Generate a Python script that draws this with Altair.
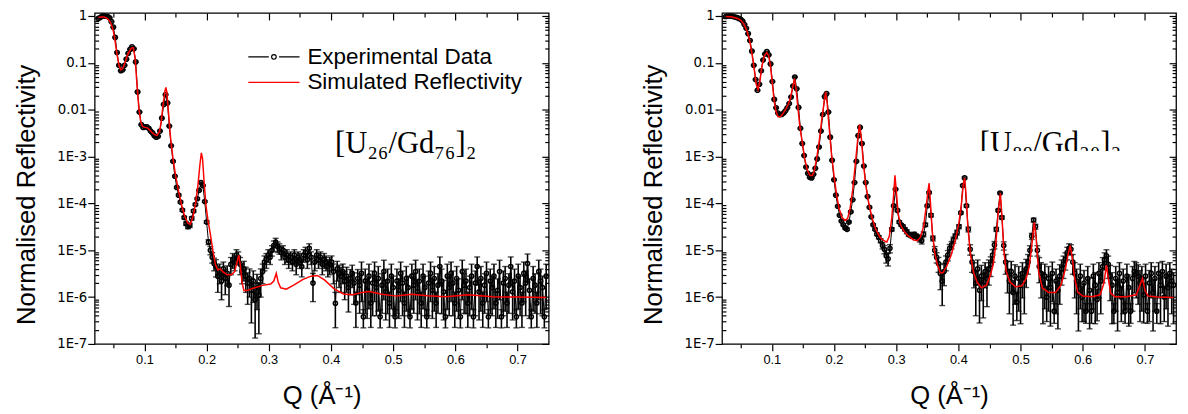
import altair as alt
import pandas as pd

# ---------------- data ----------------
Q_EXP = [
    0.026, 0.029, 0.032, 0.035, 0.038, 0.041, 0.044, 0.047, 0.050, 0.053,
    0.056, 0.059, 0.062, 0.065, 0.068, 0.071, 0.074, 0.077, 0.080, 0.083,
    0.086, 0.089, 0.092, 0.095, 0.098, 0.101, 0.104, 0.107, 0.110, 0.113,
    0.116, 0.119, 0.122, 0.125, 0.128, 0.131, 0.134, 0.137, 0.140, 0.143,
    0.146, 0.149, 0.152, 0.155, 0.158, 0.161, 0.164, 0.167, 0.170, 0.173,
    0.176, 0.179, 0.182, 0.185, 0.188, 0.191, 0.194, 0.197, 0.200, 0.203,
    0.206, 0.209, 0.212, 0.215, 0.218, 0.221, 0.224, 0.227, 0.230, 0.233,
    0.236, 0.239, 0.242, 0.245, 0.248, 0.251, 0.254, 0.257, 0.260, 0.263,
    0.266, 0.269, 0.272, 0.275, 0.278, 0.281, 0.284, 0.287, 0.290, 0.293,
    0.296, 0.299, 0.302, 0.305, 0.308, 0.311, 0.314, 0.317, 0.320, 0.323,
    0.326, 0.329, 0.332, 0.335, 0.338, 0.341, 0.344, 0.347, 0.350, 0.353,
    0.356, 0.359, 0.362, 0.365, 0.368, 0.371, 0.374, 0.377, 0.380, 0.383,
    0.386, 0.389, 0.392, 0.395, 0.398, 0.401, 0.404, 0.407, 0.410, 0.413,
    0.416, 0.419, 0.422, 0.425, 0.428, 0.431, 0.434, 0.437, 0.440, 0.443,
    0.446, 0.449, 0.452, 0.455, 0.458, 0.461, 0.464, 0.467, 0.470, 0.473,
    0.476, 0.479, 0.482, 0.485, 0.488, 0.491, 0.494, 0.497, 0.500, 0.503,
    0.506, 0.509, 0.512, 0.515, 0.518, 0.521, 0.524, 0.527, 0.530, 0.533,
    0.536, 0.539, 0.542, 0.545, 0.548, 0.551, 0.554, 0.557, 0.560, 0.563,
    0.566, 0.569, 0.572, 0.575, 0.578, 0.581, 0.584, 0.587, 0.590, 0.593,
    0.596, 0.599, 0.602, 0.605, 0.608, 0.611, 0.614, 0.617, 0.620, 0.623,
    0.626, 0.629, 0.632, 0.635, 0.638, 0.641, 0.644, 0.647, 0.650, 0.653,
    0.656, 0.659, 0.662, 0.665, 0.668, 0.671, 0.674, 0.677, 0.680, 0.683,
    0.686, 0.689, 0.692, 0.695, 0.698, 0.701, 0.704, 0.707, 0.710, 0.713,
    0.716, 0.719, 0.722, 0.725, 0.728, 0.731, 0.734, 0.737, 0.740, 0.743,
    0.746,
]

# left panel [U26/Gd76]2 : experimental reflectivity and relative error (%)
L_EXP_R = [
    0.89, 0.93, 1.0, 1.0, 0.99, 0.98, 0.92, 0.76, 0.58, 0.35,
    0.166, 0.089, 0.068, 0.071, 0.089, 0.12, 0.16, 0.195, 0.22, 0.20,
    0.105, 0.024, 8.9e-3, 4.8e-3, 4.2e-3, 4.3e-3, 4.3e-3, 4.0e-3, 3.5e-3, 3.2e-3,
    2.8e-3, 2.6e-3, 2.7e-3, 3.5e-3, 6.6e-3, 0.013, 0.021, 0.014, 4.5e-3, 1.7e-3,
    7.9e-4, 3.8e-4, 2.2e-4, 1.5e-4, 1.07e-4, 7.2e-5, 5.0e-5, 3.7e-5, 3.2e-5, 3.4e-5,
    4.8e-5, 6.9e-5, 9.5e-5, 1.26e-4, 1.9e-4, 2.8e-4, 2.4e-4, 1.1e-4, 4.0e-5, 1.5e-5,
    1.0e-5, 7.1e-6, 5.2e-6, 4.5e-6, 2.8e-6, 3.5e-6, 2.2e-6, 4.0e-6, 2.5e-6, 3.2e-6,
    1.8e-6, 5.0e-6, 6.3e-6, 5.6e-6, 7.9e-6, 7.1e-6, 5.0e-6, 3.5e-6, 4.0e-6, 2.8e-6,
    2.0e-6, 2.5e-6, 1.4e-6, 2.2e-6, 8.9e-7, 1.8e-6, 1.1e-6, 2.5e-6, 3.5e-6, 5.6e-6,
    6.3e-6, 7.9e-6, 7.1e-6, 1.0e-5, 1.26e-5, 1.5e-5, 1.2e-5, 1.1e-5, 8.9e-6, 1.0e-5,
    7.1e-6, 7.9e-6, 6.3e-6, 7.1e-6, 5.6e-6, 7.9e-6, 5.0e-6, 7.1e-6, 6.3e-6, 4.5e-6,
    7.9e-6, 8.9e-6, 6.3e-6, 1.1e-5, 7.1e-6, 2.0e-6, 5.6e-6, 7.9e-6, 6.3e-6, 7.1e-6,
    5.0e-6, 6.3e-6, 5.6e-6, 4.5e-6, 5.0e-6, 5.6e-6, 3.5e-6, 7.4e-7, 4.0e-6, 3.2e-6,
    2.8e-6, 3.5e-6, 2.2e-6, 2.8e-6, 1.6e-6, 2.5e-6, 3.2e-6, 2.0e-6, 7.5e-7, 2.5e-6,
    1.8e-6, 3.2e-6, 3.8e-7, 2.2e-6, 1.4e-6, 2.8e-6, 7.5e-7, 2.0e-6, 3.2e-6, 1.6e-6,
    2.5e-6, 3.8e-7, 1.8e-6, 3.5e-6, 1.3e-6, 2.2e-6, 7.5e-7, 2.8e-6, 1.6e-6, 3.8e-7,
    2.2e-6, 1.4e-6, 3.2e-6, 2.0e-6, 7.5e-7, 2.5e-6, 1.6e-6, 3.8e-7, 2.8e-6, 1.8e-6,
    3.5e-6, 1.3e-6, 2.2e-6, 7.5e-7, 2.8e-6, 1.6e-6, 3.8e-7, 2.0e-6, 3.2e-6, 1.4e-6,
    2.5e-6, 7.5e-7, 1.8e-6, 4.5e-6, 2.2e-6, 1.3e-6, 3.8e-7, 2.8e-6, 1.6e-6, 3.2e-6,
    2.0e-6, 7.5e-7, 2.5e-6, 1.4e-6, 3.8e-7, 3.5e-6, 1.8e-6, 2.2e-6, 7.5e-7, 1.6e-6,
    2.8e-6, 3.8e-7, 2.0e-6, 4.5e-6, 1.3e-6, 2.5e-6, 7.5e-7, 1.8e-6, 3.2e-6, 3.8e-7,
    2.2e-6, 1.6e-6, 2.8e-6, 7.5e-7, 1.4e-6, 3.5e-6, 3.8e-7, 2.0e-6, 2.5e-6, 7.5e-7,
    1.8e-6, 4.5e-6, 1.3e-6, 2.2e-6, 3.8e-7, 2.8e-6, 1.6e-6, 7.5e-7, 3.2e-6, 2.0e-6,
    5.2e-6, 1.4e-6, 3.8e-7, 2.5e-6, 1.8e-6, 7.5e-7, 3.5e-6, 2.2e-6, 1.6e-6, 3.8e-7,
    2.8e-6,
]
L_EXP_ERR = [
    2, 2, 2, 2, 2, 2, 2, 2, 2, 2,
    2, 2, 2, 2, 2, 2, 2, 2, 2, 2,
    2, 2, 2, 2, 2, 2, 2, 2, 2, 2,
    2, 2, 2, 2, 2, 2, 2, 2, 2, 2,
    3, 3, 3, 4, 4, 5, 6, 8, 10, 10,
    8, 6, 5, 4, 3, 3, 3, 4, 6, 12,
    20, 25, 30, 40, 55, 45, 60, 40, 55, 45,
    65, 40, 35, 35, 30, 30, 40, 45, 45, 55,
    65, 60, 80, 65, 85, 70, 85, 60, 45, 35,
    35, 30, 30, 25, 25, 20, 25, 25, 30, 25,
    30, 30, 35, 30, 35, 30, 40, 30, 35, 40,
    30, 30, 35, 25, 30, 60, 35, 30, 35, 30,
    40, 35, 35, 40, 40, 35, 45, 70, 45, 50,
    55, 45, 60, 55, 70, 55, 50, 65, 70, 55,
    75, 75, 42, 80, 75, 80, 70, 80, 75, 75,
    80, 42, 75, 75, 75, 80, 70, 80, 75, 42,
    80, 75, 75, 80, 70, 80, 75, 42, 80, 75,
    75, 75, 80, 70, 80, 75, 42, 80, 75, 75,
    80, 70, 75, 60, 80, 75, 42, 80, 75, 75,
    80, 70, 80, 75, 42, 75, 75, 80, 70, 75,
    80, 42, 80, 60, 75, 80, 70, 75, 75, 42,
    80, 75, 80, 70, 75, 75, 42, 80, 80, 70,
    75, 60, 75, 80, 42, 80, 75, 70, 75, 80,
    60, 75, 42, 80, 75, 70, 75, 80, 75, 42,
    80,
]
L_SIM_Q = [
    0.026, 0.030, 0.035, 0.040, 0.044, 0.047, 0.050, 0.053, 0.056, 0.059,
    0.062, 0.065, 0.068, 0.072, 0.076, 0.080, 0.082, 0.085, 0.088, 0.091,
    0.094, 0.097, 0.101, 0.105, 0.110, 0.115, 0.120, 0.124, 0.127, 0.130,
    0.133, 0.1345, 0.136, 0.139, 0.142, 0.146, 0.150, 0.155, 0.160, 0.165,
    0.170, 0.174, 0.178, 0.182, 0.186, 0.189, 0.1915, 0.1935, 0.196, 0.199,
    0.202, 0.206, 0.210, 0.214, 0.218, 0.222, 0.227, 0.233, 0.240, 0.245,
    0.249, 0.2515, 0.254, 0.257, 0.260, 0.265, 0.275, 0.290, 0.303, 0.308,
    0.312, 0.315, 0.319, 0.328, 0.340, 0.355, 0.368, 0.378, 0.390, 0.405,
    0.420, 0.435, 0.450, 0.462, 0.480, 0.505, 0.530, 0.555, 0.585, 0.620,
    0.660, 0.700, 0.746,
]
L_SIM_R = [
    0.93, 0.95, 0.95, 0.89, 0.79, 0.66, 0.48, 0.28, 0.15, 0.089,
    0.071, 0.076, 0.095, 0.138, 0.18, 0.21, 0.21, 0.126, 0.035, 0.011,
    5.6e-3, 4.4e-3, 4.2e-3, 4.1e-3, 3.5e-3, 3.0e-3, 2.8e-3, 3.3e-3, 5.6e-3, 0.0126,
    0.025, 0.030, 0.024, 7.9e-3, 2.5e-3, 8.9e-4, 4.0e-4, 1.8e-4, 8.9e-5, 5.2e-5,
    3.8e-5, 3.6e-5, 5.2e-5, 9.5e-5, 2.4e-4, 6.3e-4, 1.2e-3, 8.9e-4, 2.8e-4, 8.9e-5,
    4.5e-5, 2.2e-5, 1.0e-5, 5.0e-6, 3.8e-6, 4.0e-6, 3.4e-6, 3.0e-6, 3.0e-6, 3.5e-6,
    5.6e-6, 7.9e-6, 5.0e-6, 2.0e-6, 1.38e-6, 1.38e-6, 1.55e-6, 1.78e-6, 1.9e-6, 2.2e-6,
    3.2e-6, 2.1e-6, 1.58e-6, 1.48e-6, 1.8e-6, 2.4e-6, 2.8e-6, 2.9e-6, 2.3e-6, 1.5e-6,
    1.17e-6, 1.12e-6, 1.26e-6, 1.32e-6, 1.17e-6, 1.05e-6, 1.15e-6, 1.07e-6, 1.02e-6, 1.12e-6,
    1.02e-6, 1.0e-6, 0.98e-6,
]

# right panel [U89/Gd20]2
R_EXP_R = [
    0.98, 1.0, 1.0, 1.0, 0.98, 0.95, 0.93, 0.89, 0.85, 0.78,
    0.66, 0.55, 0.42, 0.30, 0.178, 0.089, 0.044, 0.026, 0.035, 0.068,
    0.115, 0.155, 0.174, 0.148, 0.095, 0.040, 0.0166, 0.011, 8.5e-3, 7.9e-3,
    7.9e-3, 8.5e-3, 9.5e-3, 0.011, 0.0135, 0.0186, 0.032, 0.050, 0.028, 0.0112,
    4.0e-3, 1.9e-3, 1.05e-3, 6.0e-4, 4.4e-4, 3.6e-4, 3.5e-4, 4.2e-4, 5.6e-4, 8.9e-4,
    1.6e-3, 3.5e-3, 7.9e-3, 0.019, 0.022, 8.9e-3, 2.6e-3, 8.3e-4, 3.2e-4, 1.5e-4,
    8.7e-5, 5.6e-5, 4.2e-5, 3.5e-5, 3.0e-5, 2.8e-5, 4.0e-5, 6.6e-5, 1.2e-4, 2.8e-4,
    7.9e-4, 2.8e-3, 4.2e-3, 1.9e-3, 6.3e-4, 2.8e-4, 1.4e-4, 8.3e-5, 5.2e-5, 3.5e-5,
    2.8e-5, 2.2e-5, 1.9e-5, 1.6e-5, 1.26e-5, 1.05e-5, 7.6e-6, 6.6e-6, 1.1e-5, 2.8e-5,
    8.9e-5, 2.0e-4, 7.1e-5, 4.0e-5, 3.5e-5, 3.2e-5, 2.8e-5, 2.5e-5, 2.2e-5, 2.1e-5,
    2.0e-5, 2.2e-5, 2.0e-5, 1.9e-5, 1.74e-5, 1.6e-5, 2.2e-5, 3.5e-5, 8.9e-5, 1.7e-4,
    5.6e-5, 1.8e-5, 1.0e-5, 7.1e-6, 5.2e-6, 3.2e-6, 2.2e-6, 3.5e-6, 5.6e-6, 7.9e-6,
    1.1e-5, 1.3e-5, 1.66e-5, 2.0e-5, 2.4e-5, 3.2e-5, 6.3e-5, 2.4e-4, 3.5e-4, 8.9e-5,
    2.8e-5, 1.05e-5, 5.6e-6, 3.5e-6, 2.0e-6, 4.0e-6, 1.4e-6, 2.8e-6, 1.8e-6, 3.5e-6,
    2.5e-6, 4.0e-6, 5.0e-6, 7.9e-6, 1.3e-5, 2.8e-5, 7.1e-5, 1.66e-4, 5.0e-5, 1.26e-5,
    5.6e-6, 3.5e-6, 2.2e-6, 3.5e-6, 1.26e-6, 2.8e-6, 7.9e-7, 2.5e-6, 1.8e-6, 3.2e-6,
    2.2e-6, 4.0e-6, 5.6e-6, 1.0e-5, 2.0e-5, 4.4e-5, 3.2e-5, 1.0e-5, 4.5e-6, 3.2e-6,
    1.8e-6, 2.8e-6, 1.0e-6, 2.5e-6, 1.6e-6, 3.2e-6, 5.0e-7, 2.2e-6, 1.4e-6, 2.8e-6,
    4.0e-6, 5.0e-6, 6.3e-6, 8.9e-6, 1.1e-5, 1.05e-5, 5.6e-6, 3.2e-6, 2.2e-6, 1.26e-6,
    2.8e-6, 1.0e-6, 2.0e-6, 5.0e-7, 2.5e-6, 1.4e-6, 5.0e-7, 2.8e-6, 1.8e-6, 8.9e-7,
    3.2e-6, 2.2e-6, 4.5e-6, 6.3e-6, 7.6e-6, 5.0e-6, 2.8e-6, 1.8e-6, 5.0e-7, 2.5e-6,
    1.26e-6, 3.2e-6, 1.0e-6, 2.2e-6, 5.0e-7, 2.8e-6, 1.6e-6, 5.0e-7, 2.5e-6, 3.5e-6,
    3.2e-6, 2.8e-6, 2.0e-6, 2.5e-6, 1.12e-6, 2.8e-6, 5.0e-7, 2.0e-6, 3.2e-6, 1.26e-6,
    2.5e-6, 5.0e-7, 3.2e-6, 1.8e-6, 3.5e-6, 1.0e-6, 2.8e-6, 1.6e-6, 3.2e-6, 2.2e-6,
    1.8e-6,
]
R_EXP_ERR = [
    2, 2, 2, 2, 2, 2, 2, 2, 2, 2,
    2, 2, 2, 2, 2, 2, 2, 2, 2, 2,
    2, 2, 2, 2, 2, 2, 2, 2, 2, 2,
    2, 2, 2, 2, 2, 2, 2, 2, 2, 2,
    2, 2, 2, 2, 2, 2, 2, 2, 2, 2,
    2, 2, 2, 2, 2, 2, 2, 2, 2, 2,
    3, 3, 4, 4, 5, 5, 4, 3, 2, 2,
    2, 2, 2, 2, 2, 2, 2, 3, 3, 4,
    5, 6, 8, 10, 15, 20, 30, 30, 20, 8,
    4, 3, 4, 6, 6, 8, 8, 10, 10, 10,
    10, 10, 12, 12, 14, 15, 12, 8, 5, 4,
    8, 12, 20, 25, 35, 55, 70, 50, 35, 25,
    20, 18, 15, 12, 12, 10, 6, 4, 4, 6,
    12, 25, 40, 55, 80, 55, 80, 70, 80, 55,
    75, 55, 45, 30, 18, 10, 5, 4, 8, 20,
    45, 65, 80, 65, 80, 75, 60, 80, 85, 70,
    80, 60, 45, 25, 15, 10, 12, 25, 55, 70,
    85, 80, 70, 80, 85, 75, 45, 80, 85, 75,
    55, 50, 40, 30, 25, 25, 45, 70, 80, 85,
    80, 70, 85, 45, 80, 85, 45, 80, 85, 65,
    70, 80, 55, 40, 35, 50, 70, 85, 45, 80,
    85, 70, 70, 80, 45, 80, 85, 45, 80, 65,
    70, 75, 85, 80, 75, 80, 45, 85, 70, 85,
    80, 45, 70, 85, 65, 70, 80, 85, 70, 80,
    85,
]
R_SIM_Q = [
    0.026, 0.035, 0.045, 0.050, 0.055, 0.060, 0.064, 0.068, 0.072, 0.075,
    0.078, 0.081, 0.084, 0.088, 0.092, 0.095, 0.098, 0.101, 0.104, 0.107,
    0.110, 0.114, 0.118, 0.122, 0.126, 0.130, 0.133, 0.1365, 0.139, 0.142,
    0.145, 0.149, 0.153, 0.157, 0.161, 0.165, 0.168, 0.172, 0.176, 0.180,
    0.184, 0.1865, 0.189, 0.192, 0.196, 0.200, 0.204, 0.208, 0.213, 0.218,
    0.222, 0.226, 0.230, 0.234, 0.238, 0.241, 0.244, 0.247, 0.251, 0.256,
    0.261, 0.267, 0.274, 0.280, 0.285, 0.289, 0.293, 0.296, 0.298, 0.300,
    0.303, 0.307, 0.313, 0.320, 0.328, 0.334, 0.339, 0.344, 0.348, 0.351,
    0.353, 0.355, 0.358, 0.362, 0.366, 0.371, 0.375, 0.381, 0.388, 0.395,
    0.401, 0.405, 0.408, 0.410, 0.412, 0.415, 0.419, 0.424, 0.430, 0.437,
    0.445, 0.451, 0.456, 0.460, 0.464, 0.4675, 0.470, 0.473, 0.477, 0.483,
    0.492, 0.502, 0.509, 0.514, 0.518, 0.522, 0.525, 0.529, 0.535, 0.545,
    0.556, 0.565, 0.572, 0.577, 0.580, 0.583, 0.587, 0.592, 0.600, 0.615,
    0.628, 0.634, 0.638, 0.641, 0.645, 0.652, 0.670, 0.686, 0.692, 0.696,
    0.700, 0.705, 0.720, 0.746,
]
R_SIM_R = [
    0.98, 0.97, 0.89, 0.81, 0.68, 0.48, 0.32, 0.16, 0.071, 0.035,
    0.027, 0.042, 0.083, 0.141, 0.166, 0.141, 0.083, 0.035, 0.015, 8.9e-3,
    7.1e-3, 7.1e-3, 8.3e-3, 0.010, 0.0126, 0.0178, 0.028, 0.046, 0.028, 0.0112,
    4.5e-3, 2.0e-3, 8.9e-4, 5.2e-4, 4.0e-4, 3.9e-4, 4.8e-4, 8.9e-4, 2.0e-3, 5.6e-3,
    0.014, 0.024, 0.014, 4.5e-3, 1.12e-3, 4.0e-4, 1.58e-4, 7.9e-5, 5.0e-5, 4.3e-5,
    4.8e-5, 7.9e-5, 1.9e-4, 6.3e-4, 2.2e-3, 4.8e-3, 2.5e-3, 7.9e-4, 2.5e-4, 1.0e-4,
    5.0e-5, 2.8e-5, 1.9e-5, 1.6e-5, 1.5e-5, 2.0e-5, 5.0e-5, 1.58e-4, 4.0e-4, 2.0e-4,
    6.3e-5, 3.5e-5, 2.5e-5, 2.0e-5, 1.66e-5, 1.6e-5, 1.9e-5, 3.2e-5, 7.9e-5, 1.8e-4,
    2.7e-4, 1.1e-4, 2.5e-5, 8.9e-6, 5.0e-6, 3.3e-6, 3.3e-6, 4.5e-6, 7.6e-6, 1.6e-5,
    4.0e-5, 1.0e-4, 2.6e-4, 3.5e-4, 1.8e-4, 3.5e-5, 8.9e-6, 3.5e-6, 2.1e-6, 1.58e-6,
    1.8e-6, 2.8e-6, 5.0e-6, 1.26e-5, 6.3e-5, 1.66e-4, 5.6e-5, 1.0e-5, 3.5e-6, 2.1e-6,
    1.66e-6, 1.74e-6, 2.5e-6, 4.5e-6, 1.26e-5, 4.0e-5, 1.8e-5, 3.5e-6, 1.58e-6, 1.26e-6,
    1.26e-6, 1.8e-6, 4.0e-6, 8.9e-6, 1.26e-5, 7.1e-6, 2.5e-6, 1.26e-6, 1.05e-6, 1.02e-6,
    1.12e-6, 2.0e-6, 4.8e-6, 2.5e-6, 1.2e-6, 1.02e-6, 1.02e-6, 1.12e-6, 1.8e-6, 2.5e-6,
    1.4e-6, 1.05e-6, 1.0e-6, 0.98e-6,
]

SERIES = ["Experimental Data", "Simulated Reflectivity"]
LEFT_LABEL = "[U\u2082\u2086/Gd\u2087\u2086]\u2082"
RIGHT_LABEL = "[U\u2088\u2089/Gd\u2082\u2080]\u2082"
LEFT_LABEL_AT = (0.520, 1.2e-3)
RIGHT_LABEL_AT = (0.548, 1.2e-3)
# the right-hand label is cut off just below its baseline in the original
RIGHT_LABEL_CUT = (0.425, 0.67, 1.32e-3, 7.5e-4)

X_MAJOR = [0.1, 0.2, 0.3, 0.4, 0.5, 0.6, 0.7]
X_MINOR = [0.05, 0.15, 0.25, 0.35, 0.45, 0.55, 0.65]
Y_MAJOR = [1e-7, 1e-6, 1e-5, 1e-4, 1e-3, 1e-2, 1e-1, 1.0]
Y_MINOR = [m * d for d in Y_MAJOR[:-1] for m in range(2, 10)]

# ---------------- styling ----------------
W, H = 461, 336
SANS = "Liberation Sans"
WIDE = "DejaVu Sans"
SERIF = "Liberation Serif"
X_DOMAIN = [0.02, 0.75]
Y_DOMAIN = [1e-7, 1.16]

PATH_EXP = ("M-1,0L-0.2,0M0.2,0L1,0"
            "M0.09,0A0.09,0.09,0,1,1,-0.09,0A0.09,0.09,0,1,1,0.09,0")
PATH_SIM = "M-1,0L1,0"


def ax(orient, values, size, inside=False, **kw):
    d = dict(orient=orient, values=values, tickSize=size, tickColor="black",
             tickWidth=1.2, domain=False, grid=False, labels=False,
             minExtent=0, maxExtent=400, title=None)
    if inside:
        d["offset"] = -size
    d.update(kw)
    return alt.Axis(**d)


AX_BOTTOM = ax("bottom", X_MAJOR, 7, labels=True, format=".1f",
               labelFont=SANS, labelFontSize=13, labelColor="black",
               labelPadding=3, title="Q (\u00c5\u207b\u00b9)", titleFont=SANS,
               titleFontSize=26, titleFontWeight="normal", titleColor="black",
               titleY=60, titleBaseline="alphabetic")
AX_BOTTOM_MINOR = ax("bottom", X_MINOR, 4)
AX_TOP = ax("top", X_MAJOR, 7, inside=True)
AX_TOP_MINOR = ax("top", X_MINOR, 4, inside=True)
AX_LEFT = ax("left", Y_MAJOR, 7, labels=True,
             labelExpr="datum.value >= 0.01 ? '' + datum.value : "
                       "'1E' + round(log(datum.value) / LN10)",
             labelFont=WIDE, labelFontSize=13.5, labelColor="black",
             labelPadding=1, title="Normalised Reflectivity", titleFont=SANS,
             titleFontSize=26, titleFontWeight="normal", titleColor="black",
             titleX=-61, titleY=H / 2 + 16, titleAngle=-90,
             titleAlign="center", titleBaseline="alphabetic")
AX_LEFT_MINOR = ax("left", Y_MINOR, 4, inside=True)
AX_RIGHT = ax("right", Y_MAJOR, 7, inside=True)
AX_RIGHT_MINOR = ax("right", Y_MINOR, 4, inside=True)


def panel(exp_r, exp_err, sim_q, sim_r, label, label_at, with_legend, cut=None):
    lo = [r * (1 - e / 100.0) for r, e in zip(exp_r, exp_err)]
    hi = [r * (1 + e / 100.0) for r, e in zip(exp_r, exp_err)]
    exp = pd.DataFrame({"q": Q_EXP, "r": exp_r, "lo": lo, "hi": hi})
    sim = pd.DataFrame({"q": sim_q, "r": sim_r})
    xs = alt.Scale(domain=X_DOMAIN, nice=False, zero=False)
    ys = alt.Scale(type="log", domain=Y_DOMAIN, nice=False)

    bars = alt.Chart(exp).mark_rule(color="black", strokeWidth=1.6).encode(
        x=alt.X("q:Q", scale=xs, axis=AX_BOTTOM),
        y=alt.Y("lo:Q", scale=ys, axis=AX_LEFT),
        y2="hi:Q",
    )
    caps_lo = alt.Chart(exp).mark_tick(
        orient="horizontal", size=6, thickness=1.4, color="black"
    ).encode(
        x=alt.X("q:Q", scale=xs, axis=AX_BOTTOM_MINOR),
        y=alt.Y("lo:Q", scale=ys, axis=AX_LEFT_MINOR),
    )
    caps_hi = alt.Chart(exp).mark_tick(
        orient="horizontal", size=6, thickness=1.4, color="black"
    ).encode(
        x=alt.X("q:Q", scale=xs, axis=AX_TOP),
        y=alt.Y("hi:Q", scale=ys, axis=AX_RIGHT),
    )
    joins = alt.Chart(exp).mark_line(color="black", strokeWidth=1.0).encode(
        x=alt.X("q:Q", scale=xs, axis=None),
        y=alt.Y("r:Q", scale=ys, axis=None),
    )
    pts = alt.Chart(exp).mark_point(
        shape="circle", filled=False, size=18, strokeWidth=1.5,
        color="black", opacity=1
    ).encode(
        x=alt.X("q:Q", scale=xs, axis=AX_TOP_MINOR),
        y=alt.Y("r:Q", scale=ys, axis=AX_RIGHT_MINOR),
    )
    line = alt.Chart(sim).mark_line(color="#ff0000", strokeWidth=1.5).encode(
        x=alt.X("q:Q", scale=xs, axis=None),
        y=alt.Y("r:Q", scale=ys, axis=None),
    )
    text = alt.Chart(pd.DataFrame({"t": [label]})).mark_text(
        font=SERIF, fontSize=31, align="center", baseline="alphabetic",
        color="black"
    ).encode(
        x=alt.XDatum(label_at[0], scale=xs, axis=None),
        y=alt.YDatum(label_at[1], scale=ys, axis=None),
        text="t:N",
    )
    layers = [bars, caps_lo, caps_hi, joins, pts, line, text]
    if cut is not None:
        mask = alt.Chart(pd.DataFrame({"m": [0]})).mark_rect(
            color="white", opacity=1
        ).encode(
            x=alt.XDatum(cut[0], scale=xs, axis=None),
            x2=alt.X2Datum(cut[1]),
            y=alt.YDatum(cut[2], scale=ys, axis=None),
            y2=alt.Y2Datum(cut[3]),
        )
        layers.append(mask)
    if with_legend:
        leg = alt.Legend(
            title=None, orient="none", legendX=155, legendY=32, padding=0,
            offset=0, labelFont=SANS, labelFontSize=22.8, labelColor="black",
            labelOffset=7, labelLimit=400, symbolSize=2704,
            symbolStrokeWidth=1.2, symbolOpacity=1, clipHeight=25,
            rowPadding=1,
        )
        legend_layer = alt.Chart(pd.DataFrame({"s": SERIES})).mark_point(
            filled=False, opacity=0
        ).encode(
            color=alt.Color("s:N", scale=alt.Scale(domain=SERIES,
                            range=["black", "#ff0000"]), legend=leg),
            shape=alt.Shape("s:N", scale=alt.Scale(domain=SERIES,
                            range=[PATH_EXP, PATH_SIM]), legend=leg),
        )
        layers.append(legend_layer)
    return alt.layer(*layers).resolve_axis(
        x="independent", y="independent"
    ).properties(width=W, height=H)


left = panel(L_EXP_R, L_EXP_ERR, L_SIM_Q, L_SIM_R, LEFT_LABEL,
             LEFT_LABEL_AT, True)
right = panel(R_EXP_R, R_EXP_ERR, R_SIM_Q, R_SIM_R, RIGHT_LABEL,
              RIGHT_LABEL_AT, False, RIGHT_LABEL_CUT)

chart = alt.hconcat(left, right, spacing=89).properties(
    padding={"left": 5, "top": -3, "right": 0, "bottom": 0}
).configure_view(stroke="black", strokeWidth=1.3)

chart.save("out.html", embed_options={"renderer": "svg", "actions": False})
